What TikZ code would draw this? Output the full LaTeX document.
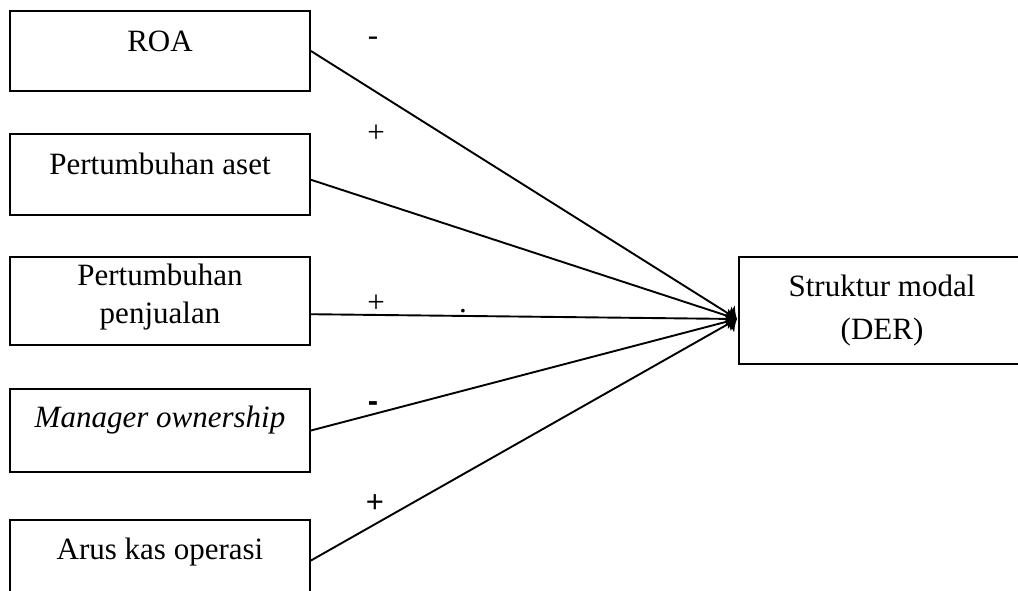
\documentclass[tikz,border=0pt]{standalone}
\usepackage{fontspec}
\setmainfont{Liberation Serif}
\newfontfamily\signfont{Liberation Sans}
\usetikzlibrary{arrows.meta}

\newcommand{\lift}[2]{\raisebox{#1pt}[\height][\depth]{#2}}

\begin{document}
\begin{tikzpicture}[
  x=1pt,y=-1pt,
  varbox/.style={draw,rectangle,line width=1.9pt,minimum width=300pt,inner sep=0pt,font=\fontsize{31}{37.5}\selectfont,align=center},
  signlabel/.style={inner sep=0pt,anchor=base,font=\fontsize{31}{37.5}\selectfont},
  effect/.style={draw,line width=1.9pt,-{Latex[length=9pt,width=22pt]}}
]

\useasboundingbox (0,0) rectangle (1018,590);
\clip (0,0) rectangle (1018,590);

% independent variables
\node[varbox,minimum height=80pt] (roa) at (160,51) {\lift{10}{ROA}};
\node[varbox,minimum height=81pt] (aset) at (160,174.5) {\lift{11}{Pertumbuhan aset}};
\node[varbox,minimum height=88pt] (sales) at (160,301)
  {\lift{4}{\begin{tabular}{@{}c@{}}Pertumbuhan\\penjualan\end{tabular}}};
\node[varbox,minimum height=83pt] (owner) at (160,430.5) {\lift{10}{\itshape Manager ownership}};
\node[varbox,minimum height=81pt] (cash) at (160,560.5) {\lift{8}{Arus kas operasi}};

% dependent variable
\node[varbox,minimum width=286pt,minimum height=107pt] (der) at (882,310.5) {Struktur modal\\[5.5pt](DER)};
\coordinate (tip) at (737,319);

% effects
\draw[effect] (roa.east) -- (tip);
\draw[effect] (aset.-2) -- (tip);
\draw[effect] (sales.-5) -- (tip);
\draw[effect] (owner.east) -- (tip);
\draw[effect] (cash.east) -- (tip);

% signs
\node[signlabel] (sroa) at (373,45) {-};
\node[signlabel] (saset) at (376,142) {+};
\node[signlabel] (ssales) at (376,312) {+};
\node[signlabel] (sdot) at (463,312) {.};
\node[signlabel,font=\fontsize{31}{37.5}\signfont\bfseries] (sowner) at (373,411) {-};
\node[signlabel,font=\fontsize{31}{37.5}\signfont] (scash) at (375,512) {+};

\end{tikzpicture}
\end{document}
